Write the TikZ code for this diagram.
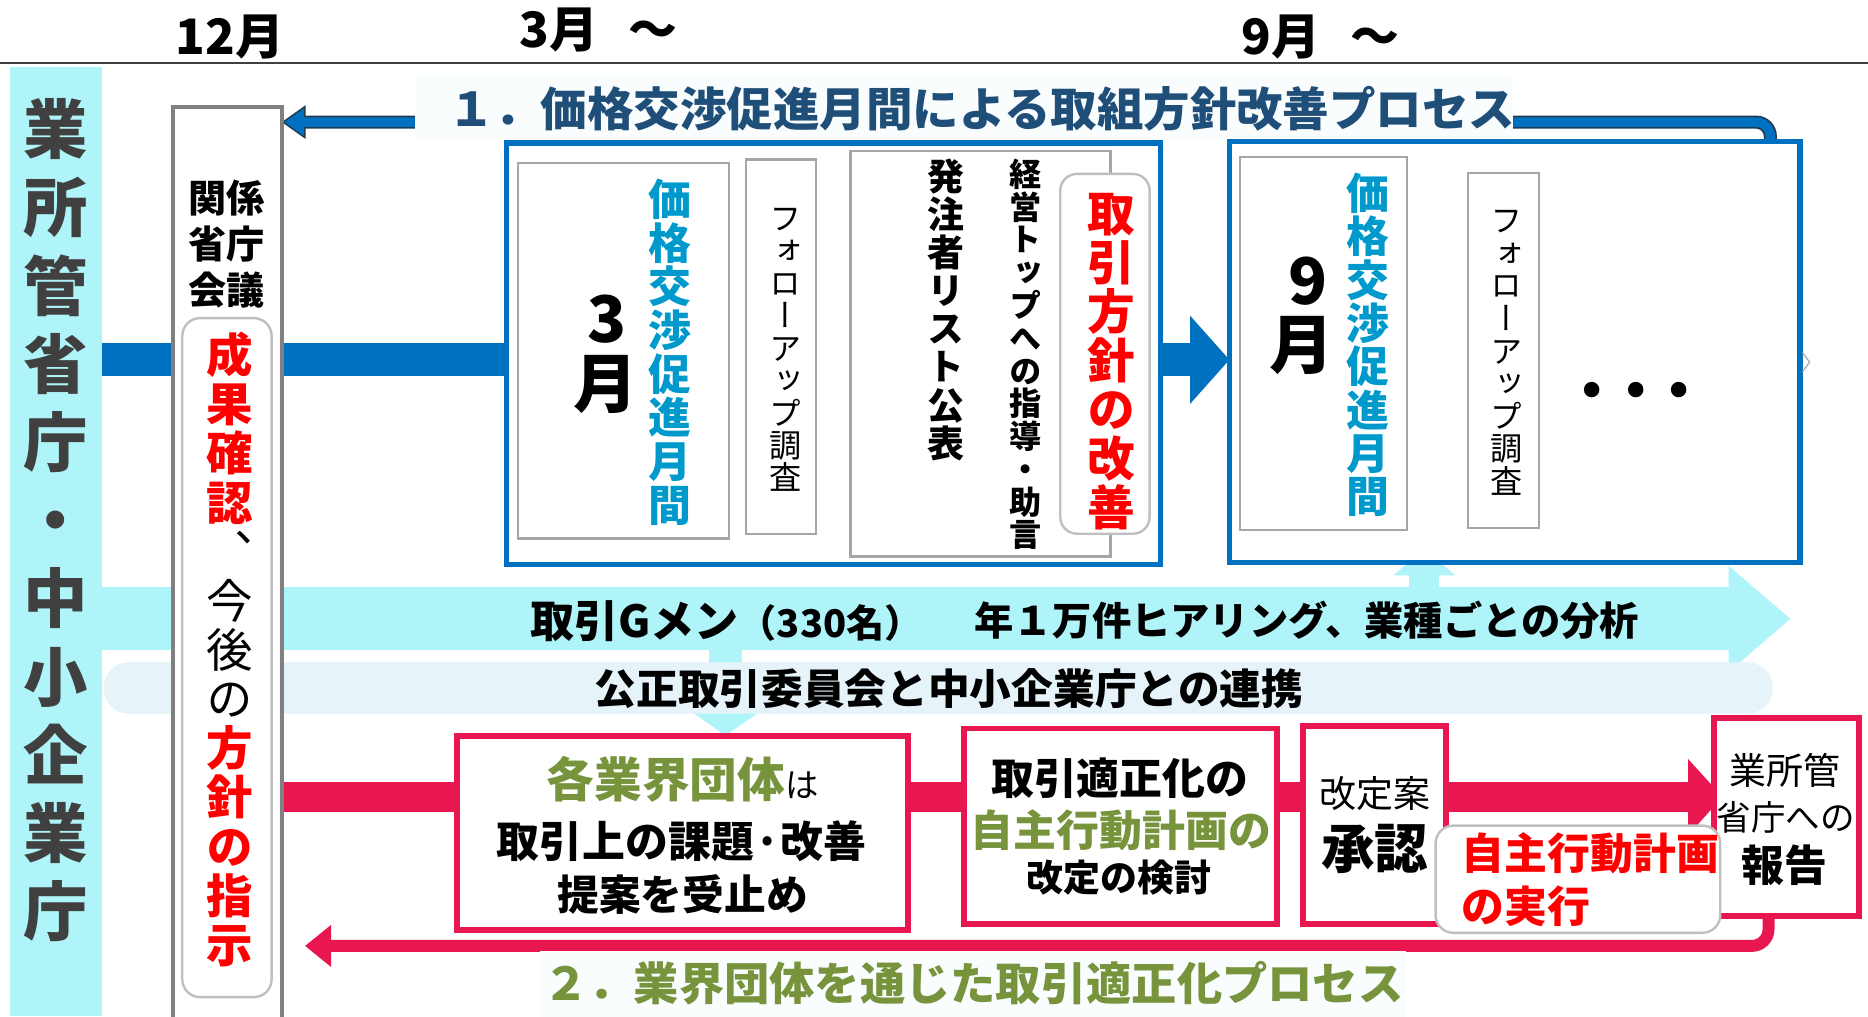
\documentclass[tikz,border=0pt]{standalone}
\usepackage{fontspec}
\setmainfont{Noto Sans CJK JP}
\newfontfamily\jpv[RawFeature=+vert]{Noto Sans CJK JP}
\usetikzlibrary{arrows.meta}
\pgfdeclarelayer{bgl}
\pgfdeclarelayer{conn}
\pgfsetlayers{bgl,conn,main}
\definecolor{cyanL}{HTML}{AFF4F8}
\definecolor{bandc}{HTML}{E6F4FA}
\definecolor{bluB}{HTML}{0070C0}
\definecolor{titB}{HTML}{1F4E79}
\definecolor{txtB}{HTML}{0099CC}
\definecolor{crim}{HTML}{E8174F}
\definecolor{olive}{HTML}{77933C}
\definecolor{dgray}{HTML}{404040}
\definecolor{gbord}{HTML}{A6A6A6}
\definecolor{kgray}{HTML}{808080}
\definecolor{rbord}{HTML}{BFBFBF}
\definecolor{ttlbg}{HTML}{F9FDFE}
\definecolor{dteal}{HTML}{203D50}
\makeatletter
\newcommand\vtend{\vt@marker}
\def\vt@loop#1{\ifx\vtend#1\else\hbox to 1.15em{\hss\vrule width0pt height.88em depth.12em{\vt@s#1}\hss}\expandafter\vt@loop\fi}
\newcommand\vchars[2][]{\def\vt@s{#1}\vt@loop#2\vtend}
\newcommand\vstack[2]{\vbox{\baselineskip=#1\lineskiplimit=-\maxdimen\lineskip=0pt #2}}
\makeatother
\begin{document}
\begin{tikzpicture}[x=1pt,y=-1pt,
  every node/.style={inner sep=0pt, outer sep=0pt},
  gbox/.style={draw=gbord, line width=2pt, fill=white},
  bbox/.style={draw=bluB, line width=4.5pt, fill=white},
  cbox/.style={draw=crim, line width=5pt, fill=white},
  rbox/.style={draw=rbord, line width=2pt, fill=white, rounded corners=14pt},
  hdr/.style={font=\bfseries\fontsize{41}{41}\selectfont},
  bignum/.style={font=\bfseries\fontsize{54}{54}\selectfont},
  dotn/.style={circle, fill=black, minimum size=13pt},
]
\useasboundingbox (0,0) rectangle (1568,853);
\begin{pgfonlayer}{bgl}
\fill[white] (0,0) rectangle (1568,853);
\end{pgfonlayer}

% header
\draw[dgray, line width=2pt] (0,53) -- (1568,53);
\node[hdr] (h12) at (193,31) {12月};
\node[hdr, anchor=west] (h3) at (436,25) {3月\hspace{26pt}～};
\node[hdr, anchor=west] (h9) at (1042,31) {9月\hspace{26pt}～};

% left column
\node[fill=cyanL, minimum width=78pt, minimum height=797pt] (col) at (47,454.5) {};
\node[text=dgray, font=\jpv\bfseries\fontsize{54}{54}\selectfont] (colt) at (47,436.75)
  {\vstack{65.65pt}{\vchars{業所管省庁・中小企業庁}}};

% bands
\node[fill=bandc, rounded corners=21pt, minimum width=1401pt, minimum height=43pt] (kb) at (787.5,577.5) {};
\node[font=\bfseries\fontsize{35}{35}\selectfont] (kbt) at (796.5,578) {公正取引委員会と中小企業庁との連携};

% 関係省庁会議
\node[draw=kgray, line width=3.5pt, fill=white, minimum width=91.5pt, minimum height=780.5pt] (kk) at (190.75,479.75) {};
\node[font=\bfseries\fontsize{32}{38.3}\selectfont, align=center] (kkt) at (190,205) {関係\\省庁\\会議};
\node[rbox, rounded corners=15pt, minimum width=75pt, minimum height=570pt] (kr) at (190.5,552) {};
\node[font=\jpv\fontsize{39}{39}\selectfont] (krt) at (193,545.5)
  {\vstack{41.25pt}{\vchars[\bfseries\color{red}]{成果確認}\vchars{、今後の}\vchars[\bfseries\color{red}]{方針の指示}}};

% box 1 (3月)
\node[bbox, minimum width=549pt, minimum height=354pt] (b1) at (699.5,297) {};
\node[gbox, minimum width=177pt, minimum height=315pt] (g3) at (523.5,294.5) {};
\node[bignum] (g3n) at (510,268) {3};
\node[bignum] (g3m) at (508,323) {月};
\node[text=txtB, font=\jpv\bfseries\fontsize{36}{36}\selectfont] (g3t) at (562,295.5)
  {\vstack{36.7pt}{\vchars{価格交渉促進月間}}};
\node[gbox, minimum width=59pt, minimum height=314pt] (f3) at (655.5,291) {};
\node[font=\jpv\fontsize{27}{27}\selectfont] (f3t) at (659,292)
  {\vstack{27.25pt}{\vchars{フォローアップ調査}}};
\node[gbox, minimum width=218pt, minimum height=340pt] (p3) at (823,297) {};
\node[font=\jpv\bfseries\fontsize{31}{31}\selectfont] (p3a) at (794,260)
  {\vstack{32pt}{\vchars{発注者リスト公表}}};
\node[font=\jpv\bfseries\fontsize{27}{27}\selectfont] (p3b) at (861,297.5)
  {\vstack{27.5pt}{\vchars{経営トップへの指導・助言}}};
\node[rbox, minimum width=75pt, minimum height=302pt] (r3) at (927.5,297) {};
\node[text=red, font=\jpv\bfseries\fontsize{40}{40}\selectfont] (r3t) at (933,302.5)
  {\vstack{41.2pt}{\vchars{取引方針の改善}}};

% box 9 (9月)
\node[bbox, minimum width=479pt, minimum height=353pt] (b9) at (1271.5,295.5) {};
\node[gbox, minimum width=140pt, minimum height=313pt] (g9) at (1111,288.5) {};
\node[bignum] (g9n) at (1098,236) {9};
\node[bignum] (g9m) at (1093,290) {月};
\node[text=txtB, font=\jpv\bfseries\fontsize{36}{36}\selectfont] (g9t) at (1148,289.5)
  {\vstack{36.4pt}{\vchars{価格交渉促進月間}}};
\node[gbox, minimum width=60pt, minimum height=298pt] (f9) at (1262,294) {};
\node[font=\jpv\fontsize{27}{27}\selectfont] (f9t) at (1265,294.5)
  {\vstack{27.4pt}{\vchars{フォローアップ調査}}};
\node[dotn] (d1) at (1336,327) {};
\node[dotn] (d2) at (1373,327) {};
\node[dotn] (d3) at (1409,327) {};
\draw[gbord, line width=1pt] (1513,296) -- (1519,304) -- (1513,312);

% title 1
\node[fill=ttlbg, minimum width=922pt, minimum height=54pt] (t1bg) at (809,89) {};
\node[text=titB, font=\bfseries\fontsize{39}{39}\selectfont] (t1) at (824,91) {１．価格交渉促進月間による取組方針改善プロセス};

% cyan band text
\node[anchor=west, font=\bfseries\fontsize{37}{37}\selectfont] (gm1) at (445,521) {取引Gメン{\fontsize{32}{32}\selectfont （330名）}};
\node[anchor=east, font=\bfseries\fontsize{33}{33}\selectfont] (gm2) at (1376,521) {年１万件ヒアリング、業種ごとの分析};

% crimson boxes
\node[cbox, minimum width=379pt, minimum height=163pt] (a1) at (573,699) {};
\node[text=olive, font=\bfseries\fontsize{40}{40}\selectfont] (a1a) at (573,654) {各業界団体{\mdseries\color{black}\fontsize{28}{28}\selectfont は}};
\node[font=\bfseries\fontsize{36}{36}\selectfont] (a1b) at (572,706) {取引上の課題·改善};
\node[font=\bfseries\fontsize{35}{35}\selectfont] (a1c) at (573,751) {提案を受止め};

\node[cbox, minimum width=262pt, minimum height=164pt] (a2) at (940.5,693.5) {};
\node[font=\bfseries\fontsize{36}{36}\selectfont] (a2a) at (940,653) {取引適正化の};
\node[text=olive, font=\bfseries\fontsize{36}{36}\selectfont] (a2b) at (941,697) {自主行動計画の};
\node[font=\bfseries\fontsize{31}{31}\selectfont] (a2c) at (939,737) {改定の検討};

\node[cbox, minimum width=120pt, minimum height=166pt] (a3) at (1153.5,692.5) {};
\node[font=\fontsize{31}{31}\selectfont] (a3a) at (1154,666) {改定案};
\node[font=\bfseries\fontsize{45}{45}\selectfont] (a3b) at (1154,713) {承認};

\node[cbox, minimum width=122pt, minimum height=166pt] (a4) at (1499.5,685.5) {};
\node[font=\fontsize{31}{31}\selectfont] (a4a) at (1498,647) {業所管};
\node[font=\fontsize{29}{29}\selectfont] (a4b) at (1499,686) {省庁への};
\node[font=\bfseries\fontsize{36}{36}\selectfont] (a4c) at (1498,726) {報告};

\node[rbox, rounded corners=15pt, minimum width=239pt, minimum height=90pt] (a5) at (1324.5,738) {};
\node[anchor=west, align=left, text=red, font=\bfseries\fontsize{36}{45}\selectfont] (a5t) at (1227,738.5) {自主行動計画\\の実行};

% title 2
\node[fill=ttlbg, minimum width=727pt, minimum height=60pt] (t2bg) at (816.5,828) {};
\node[text=olive, font=\bfseries\fontsize{38}{38}\selectfont] (t2) at (817,825) {２．業界団体を通じた取引適正化プロセス};

% connectors
\coordinate (by) at (0,302);
\coordinate (cy) at (0,519.5);
\coordinate (cytip) at (1503,519.5);
\coordinate (upf) at (1195.5,500);
\coordinate (uptip) at (1195.5,461);
\coordinate (dnf) at (609,540);
\coordinate (py) at (0,669);
\coordinate (ptip) at (1446,669);
\coordinate (rx) at (1484.5,0);
\coordinate (rtip) at (256,794);
\coordinate (tx) at (1486,0);
\coordinate (ty) at (0,102.5);
\begin{pgfonlayer}{conn}
\draw[cyanL, line width=53pt, -{Triangle[length=52pt,width=86pt]}] (col.east |- cy) -- (cytip);
\draw[cyanL, line width=25pt, -{Triangle[length=22pt,width=51pt]}] (upf) -- (uptip);
\draw[cyanL, line width=28pt, -{Triangle[length=20pt,width=56pt]}] (dnf) -- (dnf |- a1.north);
\draw[bluB, line width=28pt] (col.east |- by) -- (b1.west |- by);
\draw[bluB, line width=28pt, -{Triangle[length=33pt,width=72pt]}] (b1.east |- by) -- (b9.west |- by);
\draw[crim, line width=26pt, -{Triangle[length=29pt,width=62pt]}] (kk.east |- py) -- (ptip);
\draw[crim, line width=10pt, rounded corners=14pt, -{Triangle[length=22pt,width=34pt]}] (a4.south -| rx) |- (rtip);
\draw[dteal, line width=11pt, rounded corners=12pt, -{Triangle[length=20pt,width=28pt,fill=bluB,line width=1.2pt]}] (b9.north -| tx) |- (kk.east |- ty);
\draw[bluB, line width=8pt, rounded corners=12pt, shorten >=18pt] (b9.north -| tx) |- (kk.east |- ty);
\end{pgfonlayer}
\end{tikzpicture}
\end{document}
